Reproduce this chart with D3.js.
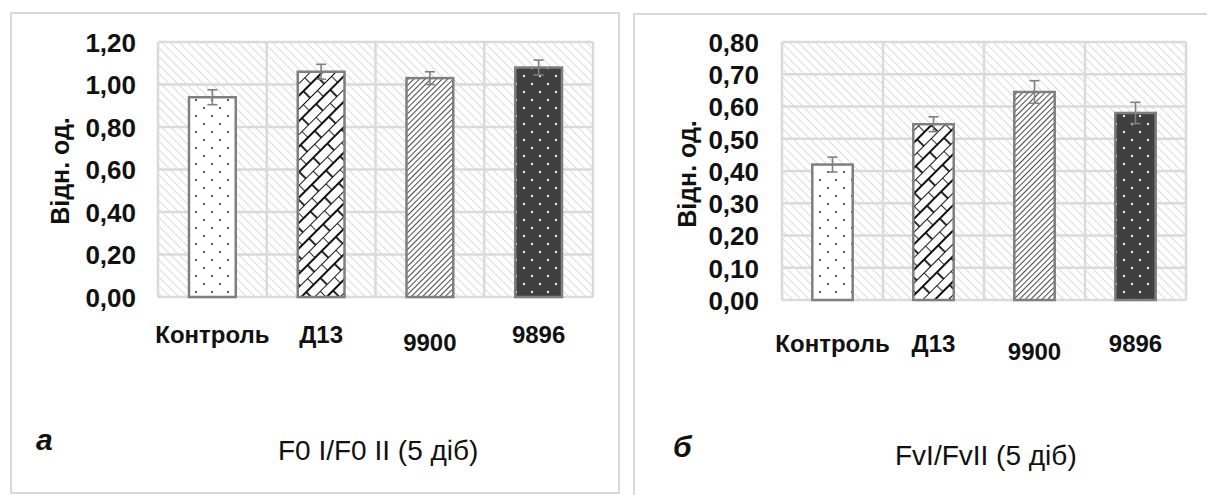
<!DOCTYPE html>
<meta charset="utf-8">
<style>
body { margin: 0; background: #fff; }
svg { display: block; font-family: "Liberation Sans", Arial, sans-serif; }
.tick-lab { font-size: 26px; font-weight: bold; fill: #111; }
.cat-lab { font-size: 24px; font-weight: bold; fill: #111; }
.y-title { font-size: 25px; font-weight: bold; fill: #111; }
.caption { font-size: 28px; fill: #111; }
.letter { font-size: 30px; font-weight: bold; font-style: italic; fill: #111; }
</style>
<body>

<script src="https://cdn.jsdelivr.net/npm/d3@7"></script>

<script>

// categories shared by both panels
var categories = ["Контроль", "Д13", "9900", "9896"];

// panel a : F0 I/F0 II
var valuesA = [0.94, 1.06, 1.03, 1.08];
var errorsA = [0.035, 0.035, 0.03, 0.035];
var ticksA  = [0, 0.2, 0.4, 0.6, 0.8, 1.0, 1.2];

// panel b : FvI/FvII
var valuesB = [0.42, 0.545, 0.645, 0.58];
var errorsB = [0.023, 0.023, 0.035, 0.033];
var ticksB  = [0, 0.1, 0.2, 0.3, 0.4, 0.5, 0.6, 0.7, 0.8];

var yTitle = "Відн. од.";
var captionA = "F0 I/F0 II (5 діб)";
var captionB = "FvI/FvII (5 діб)";
var letterA = "а";
var letterB = "б";

// fill pattern per category
var fills = ["url(#dots)", "url(#brick)", "url(#diag)", "url(#darkdots)"];

var svg = d3.select("body")
    .append("svg")
        .attr("width", 1207)
        .attr("height", 495);

// ---- patterns ----
var defs = svg.append("defs");

// light background hatching
var bg = defs.append("pattern")
    .attr("id", "bghatch")
    .attr("patternUnits", "userSpaceOnUse")
    .attr("width", 6).attr("height", 6)
    .attr("patternTransform", "rotate(-45)");
bg.append("rect").attr("width", 6).attr("height", 6).attr("fill", "#fff");
bg.append("line").attr("x1", 0).attr("y1", 0).attr("x2", 0).attr("y2", 6)
    .attr("stroke", "#c4c4c4").attr("stroke-width", 1.2);

// small dots on white
var dots = defs.append("pattern")
    .attr("id", "dots")
    .attr("patternUnits", "userSpaceOnUse")
    .attr("width", 16).attr("height", 16);
dots.append("rect").attr("width", 16).attr("height", 16).attr("fill", "#fff");
dots.append("circle").attr("cx", 4).attr("cy", 4).attr("r", 1).attr("fill", "#222");
dots.append("circle").attr("cx", 12).attr("cy", 12).attr("r", 1).attr("fill", "#222");

// white dots on dark
var dd = defs.append("pattern")
    .attr("id", "darkdots")
    .attr("patternUnits", "userSpaceOnUse")
    .attr("width", 16).attr("height", 16);
dd.append("rect").attr("width", 16).attr("height", 16).attr("fill", "#404040");
dd.append("circle").attr("cx", 4).attr("cy", 4).attr("r", 1.2).attr("fill", "#e8e8e8");
dd.append("circle").attr("cx", 12).attr("cy", 12).attr("r", 1.2).attr("fill", "#e8e8e8");

// dense forward diagonal
var dg = defs.append("pattern")
    .attr("id", "diag")
    .attr("patternUnits", "userSpaceOnUse")
    .attr("width", 4).attr("height", 4)
    .attr("patternTransform", "rotate(45)");
dg.append("rect").attr("width", 4).attr("height", 4).attr("fill", "#fff");
dg.append("line").attr("x1", 0).attr("y1", 0).attr("x2", 0).attr("y2", 4)
    .attr("stroke", "#1a1a1a").attr("stroke-width", 1.6);

// diagonal brick
var br = defs.append("pattern")
    .attr("id", "brick")
    .attr("patternUnits", "userSpaceOnUse")
    .attr("width", 20).attr("height", 18)
    .attr("patternTransform", "rotate(-45)");
br.append("rect").attr("width", 20).attr("height", 18).attr("fill", "#fff");
br.append("path")
    .attr("d", "M0,0H20M0,9H20M0,0V9M10,9V18")
    .attr("stroke", "#111").attr("stroke-width", 1.8).attr("fill", "none");

var fmt = function(d) { return d3.format(".2f")(d).replace(".", ","); };

// draw one panel
function drawPanel(p) {

    var g = svg.append("g");

    // frame
    g.append("rect")
        .attr("x", p.frame[0]).attr("y", p.frame[1])
        .attr("width", p.frame[2]).attr("height", p.frame[3])
        .attr("fill", "none").attr("stroke", "#d9d9d9").attr("stroke-width", 2);

    var x = d3.scaleBand()
        .domain(categories)
        .range([p.left, p.right])
        .paddingInner(p.pad)
        .paddingOuter(p.pad / 2);

    var cell = d3.scaleBand()
        .domain(categories)
        .range([p.left, p.right]);

    var y = d3.scaleLinear()
        .domain([0, d3.max(p.ticks)])
        .range([p.bottom, p.top]);

    // plot background
    g.append("rect")
        .attr("x", p.left).attr("y", p.top)
        .attr("width", p.right - p.left).attr("height", p.bottom - p.top)
        .attr("fill", "url(#bghatch)");

    // horizontal grid
    g.selectAll(".hgrid")
        .data(p.ticks)
        .enter().append("line")
        .attr("x1", p.left).attr("x2", p.right)
        .attr("y1", function(d) { return y(d); })
        .attr("y2", function(d) { return y(d); })
        .attr("stroke", "#dadada").attr("stroke-width", 2.5);

    // vertical grid at cell borders
    var edges = categories.map(function(c) { return cell(c); }).concat([p.right]);
    g.selectAll(".vgrid")
        .data(edges)
        .enter().append("line")
        .attr("x1", function(d) { return d; }).attr("x2", function(d) { return d; })
        .attr("y1", p.top).attr("y2", p.bottom)
        .attr("stroke", "#dadada").attr("stroke-width", 2.5);

    // bars
    g.selectAll(".bar")
        .data(p.values)
        .enter().append("rect")
        .attr("x", function(d, i) { return x(categories[i]); })
        .attr("y", function(d) { return y(d); })
        .attr("width", x.bandwidth())
        .attr("height", function(d) { return p.bottom - y(d); })
        .attr("fill", function(d, i) { return fills[i]; })
        .attr("stroke", "#7f7f7f")
        .attr("stroke-width", 2.5);

    // error bars
    var eb = g.selectAll(".err")
        .data(p.values)
        .enter().append("g")
        .attr("stroke", "#808080")
        .attr("stroke-width", 1.6);
    eb.append("line")
        .attr("x1", function(d, i) { return x(categories[i]) + x.bandwidth() / 2; })
        .attr("x2", function(d, i) { return x(categories[i]) + x.bandwidth() / 2; })
        .attr("y1", function(d, i) { return y(d - p.errors[i]); })
        .attr("y2", function(d, i) { return y(d + p.errors[i]); });
    [-1, 1].forEach(function(s) {
        eb.append("line")
            .attr("x1", function(d, i) { return x(categories[i]) + x.bandwidth() / 2 - 5; })
            .attr("x2", function(d, i) { return x(categories[i]) + x.bandwidth() / 2 + 5; })
            .attr("y1", function(d, i) { return y(d + s * p.errors[i]); })
            .attr("y2", function(d, i) { return y(d + s * p.errors[i]); });
    });

    // y axis labels
    var ax = g.append("g")
        .attr("transform", "translate(" + p.labelRight + ",0)")
        .call(d3.axisLeft(y).tickValues(p.ticks).tickSize(0).tickPadding(0).tickFormat(fmt));
    ax.select(".domain").remove();
    ax.selectAll("text")
        .attr("class", "tick-lab")
        .attr("fill", null)
        .attr("dy", "0.36em");
    ax.attr("font-size", null).attr("font-family", null);

    // category labels (9900 sits a little lower in the source)
    g.selectAll(".cat")
        .data(categories)
        .enter().append("text")
        .attr("class", "cat-lab")
        .attr("text-anchor", "middle")
        .attr("x", function(d) { return x(d) + x.bandwidth() / 2; })
        .attr("y", function(d) { return p.catY + (d === "9900" ? 8 : 0); })
        .text(function(d) { return d; });

    // y title
    g.append("text")
        .attr("class", "y-title")
        .attr("text-anchor", "middle")
        .attr("transform", "translate(" + p.titleX + "," + p.titleY + ") rotate(-90)")
        .text(yTitle);

    // panel letter and caption
    g.append("text")
        .attr("class", "letter")
        .attr("x", p.letterPos[0]).attr("y", p.letterPos[1])
        .text(p.letter);
    g.append("text")
        .attr("class", "caption")
        .attr("x", p.capPos[0]).attr("y", p.capPos[1])
        .text(p.caption);
}

drawPanel({
    frame: [11, 13, 608, 480],
    left: 158, right: 593, top: 42, bottom: 297,
    pad: 0.57,
    values: valuesA, errors: errorsA, ticks: ticksA,
    labelRight: 136, catY: 343,
    titleX: 69, titleY: 171,
    letter: letterA, letterPos: [36, 450],
    caption: captionA, capPos: [278, 460]
});

drawPanel({
    frame: [634, 14, 620, 500],
    left: 782, right: 1186, top: 42, bottom: 300,
    pad: 0.6,
    values: valuesB, errors: errorsB, ticks: ticksB,
    labelRight: 759, catY: 352,
    titleX: 696, titleY: 174,
    letter: letterB, letterPos: [673, 457],
    caption: captionB, capPos: [895, 465]
});

</script>
</body>
